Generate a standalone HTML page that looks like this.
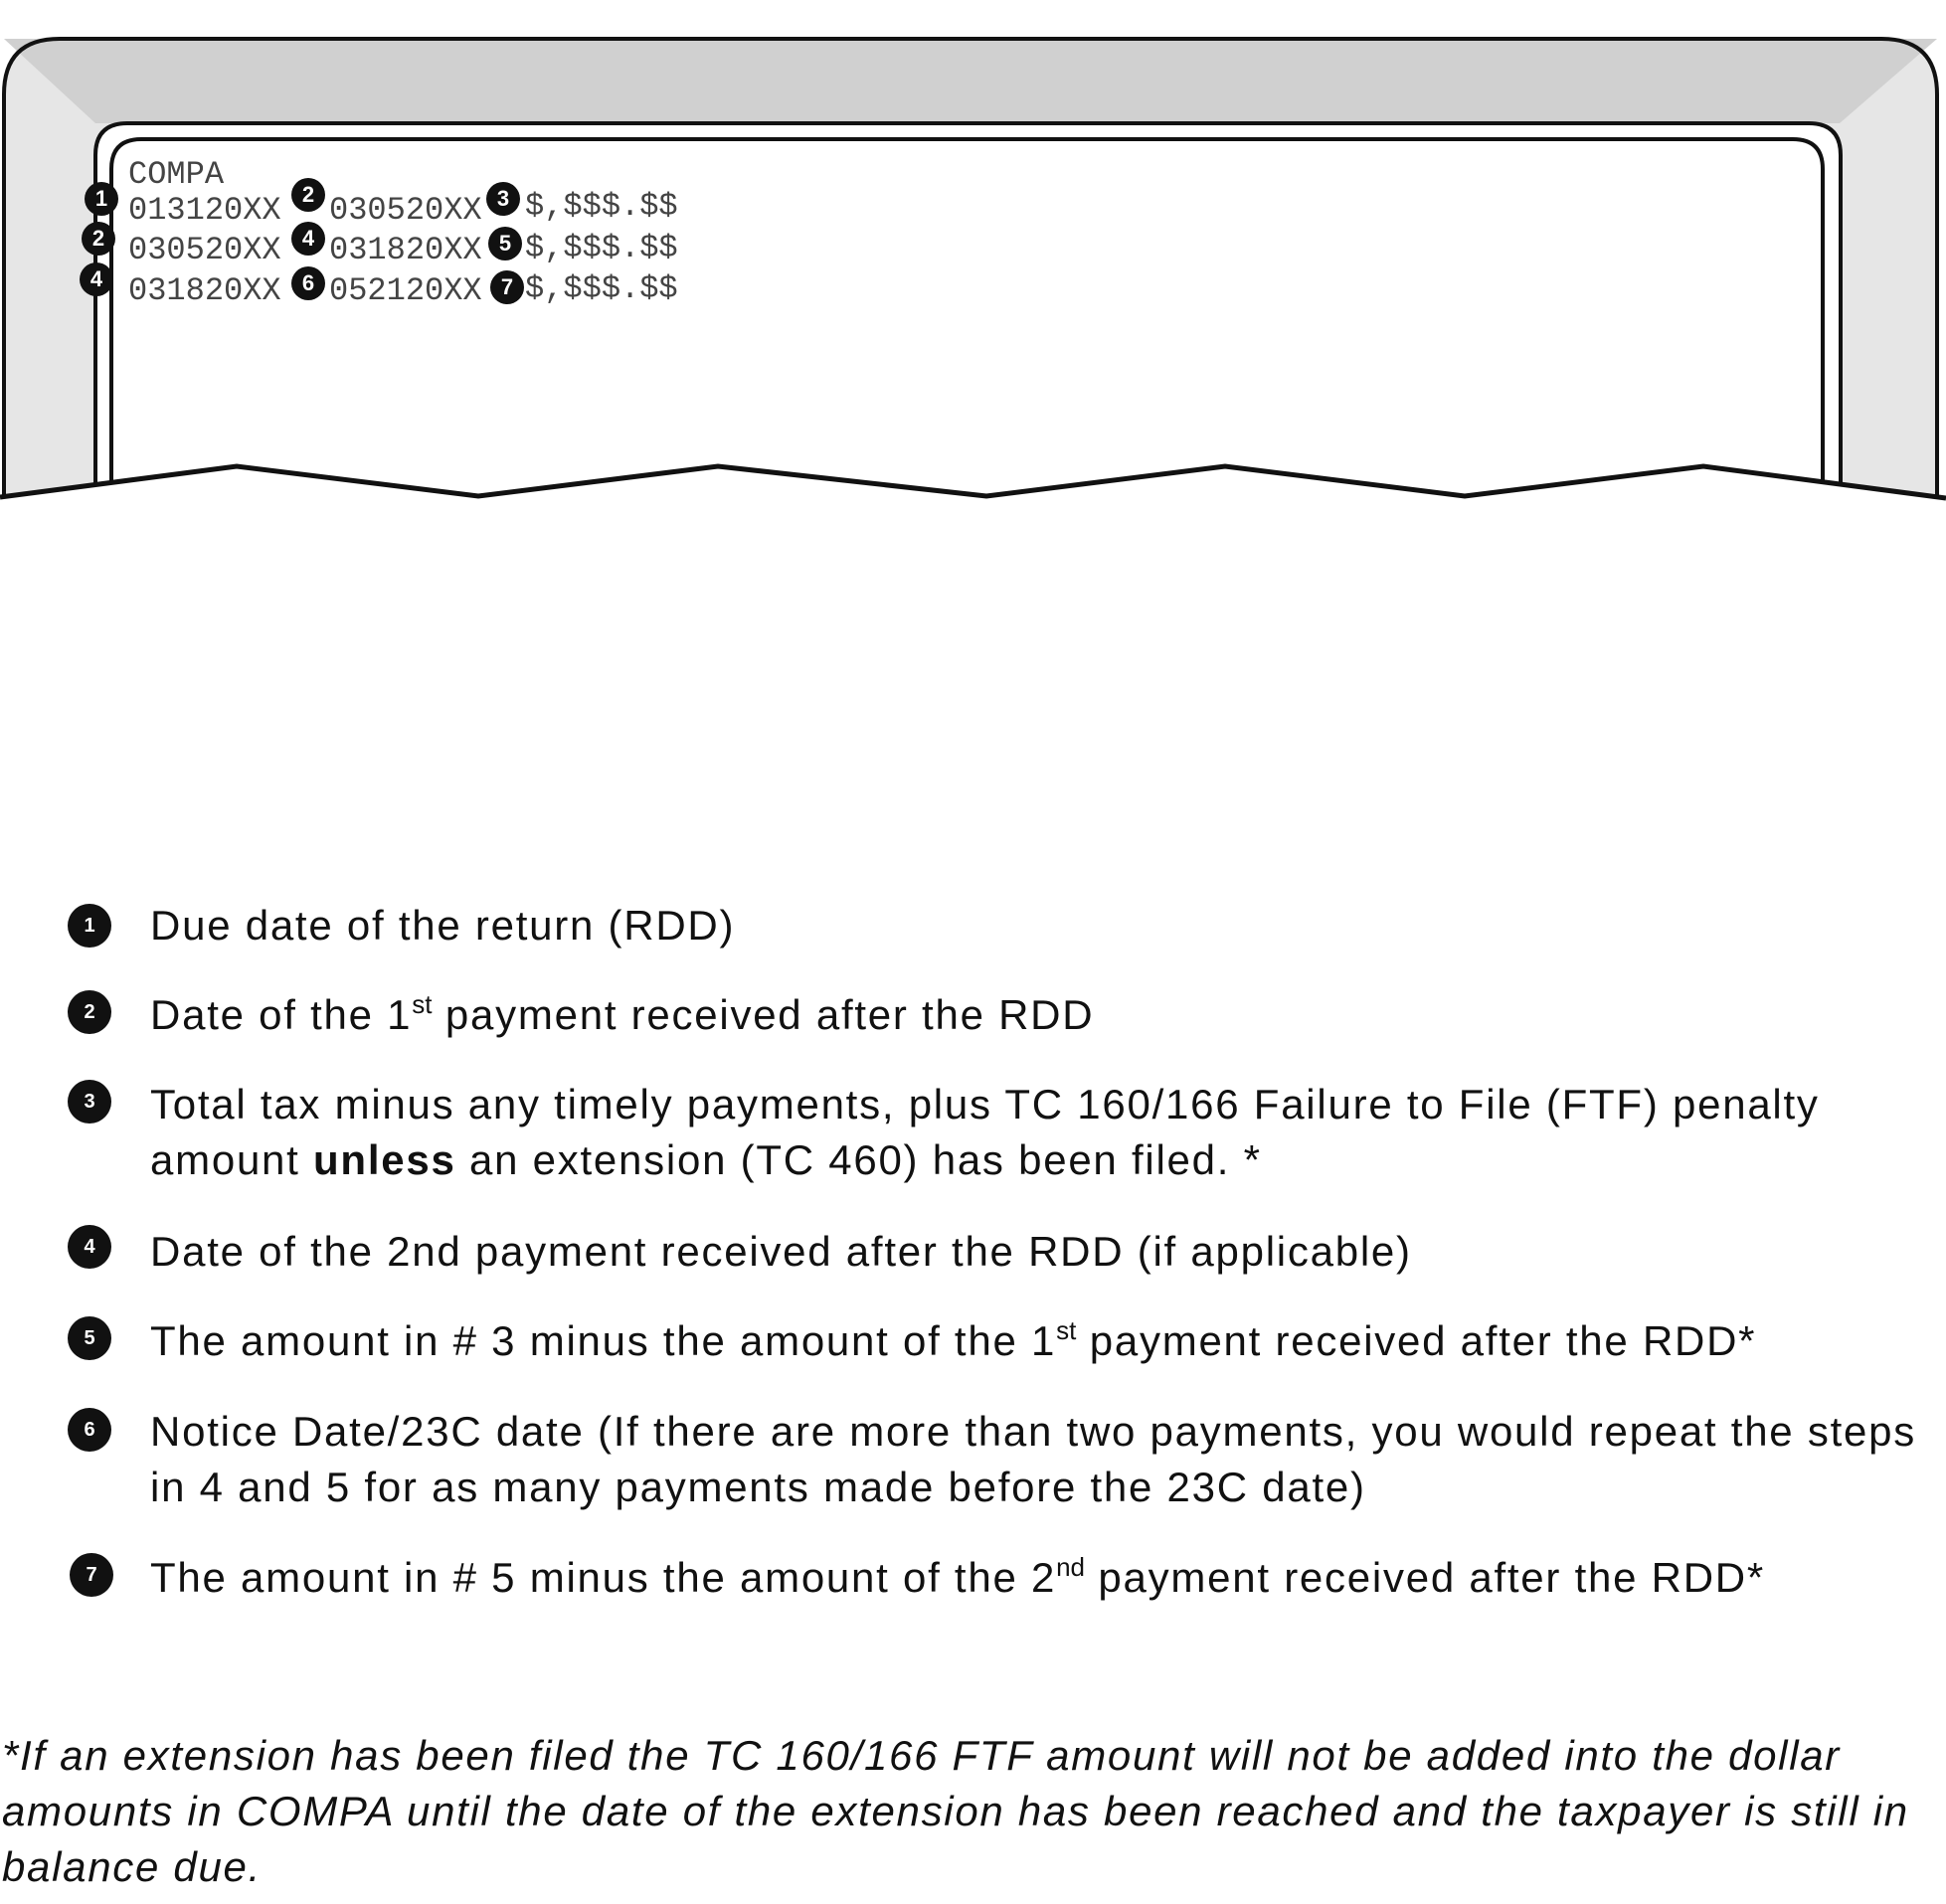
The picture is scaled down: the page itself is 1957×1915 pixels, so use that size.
<!DOCTYPE html>
<html><head><meta charset="utf-8"><style>
body{margin:0;width:1957px;height:1915px;background:#fff;position:relative;overflow:hidden;font-family:"Liberation Sans",Arial,sans-serif;color:#111}
.m{position:absolute;font-family:"Liberation Mono",monospace;font-size:32px;color:#444;white-space:pre;line-height:1}
.c{position:absolute;width:34px;height:34px;border-radius:50%;background:#111;color:#fff;font-weight:bold;font-size:22px;text-align:center;line-height:34px}
.lc{position:absolute;left:68px;width:44px;height:44px;border-radius:50%;background:#111;color:#fff;font-weight:bold;font-size:20px;text-align:center;line-height:44px}
.t{position:absolute;left:151px;font-size:42px;line-height:56px;white-space:nowrap;letter-spacing:1.75px}
sup{font-size:26px;vertical-align:0;position:relative;top:-16px;letter-spacing:0}
.f{position:absolute;left:2px;font-size:42px;line-height:56px;font-style:italic;white-space:nowrap;letter-spacing:1.7px}
</style></head><body>
<svg width="1957" height="520" style="position:absolute;left:0;top:0">
<path d="M4,500 L4,95 Q4,39 60,39 L1892,39 Q1948,39 1948,95 L1948,500 Z" fill="#e6e6e6"/>
<path d="M4,39 L1948,39 L1850,124 L96,124 Z" fill="#d0d0d0"/>
<path d="M4,500 L4,95 Q4,39 60,39 L1892,39 Q1948,39 1948,95 L1948,500" fill="none" stroke="#111" stroke-width="4"/>
<path d="M96,500 L96,156 Q96,124 128,124 L1819,124 Q1851,124 1851,156 L1851,500 Z" fill="#fff" stroke="#111" stroke-width="4"/>
<path d="M112,500 L112,170 Q112,140 142,140 L1803,140 Q1833,140 1833,170 L1833,500" fill="none" stroke="#111" stroke-width="4"/>
<polygon points="0,500 238,469 481,499 722,469 992,499 1232,469 1473,499 1713,469 1957,501 1957,520 0,520" fill="#fff"/>
<polyline points="0,500 238,469 481,499 722,469 992,499 1232,469 1473,499 1713,469 1957,501" fill="none" stroke="#111" stroke-width="5"/>
</svg>
<div class="m" style="left:129px;top:160px">COMPA</div>
<div class="m" style="left:129px;top:196px">013120XX</div><div class="m" style="left:331px;top:196px">030520XX</div><div class="m" style="left:528px;top:192px">$,$$$.$$</div>
<div class="m" style="left:129px;top:236px">030520XX</div><div class="m" style="left:331px;top:236px">031820XX</div><div class="m" style="left:528px;top:234px">$,$$$.$$</div>
<div class="m" style="left:129px;top:277px">031820XX</div><div class="m" style="left:331px;top:277px">052120XX</div><div class="m" style="left:528px;top:275px">$,$$$.$$</div>
<div class="c" style="left:85px;top:183px">1</div><div class="c" style="left:293px;top:179px">2</div><div class="c" style="left:489px;top:183px">3</div>
<div class="c" style="left:82px;top:223px">2</div><div class="c" style="left:293px;top:223px">4</div><div class="c" style="left:491px;top:228px">5</div>
<div class="c" style="left:80px;top:264px">4</div><div class="c" style="left:293px;top:268px">6</div><div class="c" style="left:493px;top:272px">7</div>

<div class="lc" style="top:909px">1</div><div class="t" style="top:903px">Due date of the return (RDD)</div>
<div class="lc" style="top:996px">2</div><div class="t" style="top:993px">Date of the 1<sup>st</sup> payment received after the RDD</div>
<div class="lc" style="top:1086px">3</div><div class="t" style="top:1083px">Total tax minus any timely payments, plus TC 160/166 Failure to File (FTF) penalty<br>amount <b>unless</b> an extension (TC 460) has been filed. *</div>
<div class="lc" style="top:1232px">4</div><div class="t" style="top:1231px">Date of the 2nd payment received after the RDD (if applicable)</div>
<div class="lc" style="top:1324px">5</div><div class="t" style="top:1321px">The amount in # 3 minus the amount of the 1<sup>st</sup> payment received after the RDD*</div>
<div class="lc" style="top:1416px">6</div><div class="t" style="top:1412px">Notice Date/23C date (If there are more than two payments, you would repeat the steps<br>in 4 and 5 for as many payments made before the 23C date)</div>
<div class="lc" style="top:1562px;left:70px">7</div><div class="t" style="top:1559px">The amount in # 5 minus the amount of the 2<sup>nd</sup> payment received after the RDD*</div>

<div class="f" style="top:1738px">*If an extension has been filed the TC 160/166 FTF amount will not be added into the dollar<br>amounts in COMPA until the date of the extension has been reached and the taxpayer is still in<br>balance due.</div>
</body></html>
